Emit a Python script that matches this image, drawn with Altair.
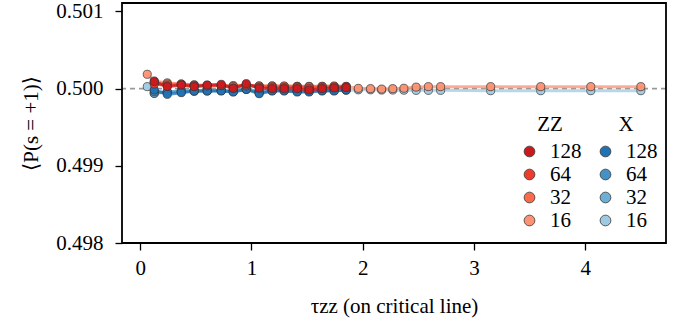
import altair as alt
import pandas as pd

# tau grids
tau_main = [0.126, 0.243, 0.369, 0.485, 0.602, 0.728, 0.836, 0.953, 1.069, 1.186,
            1.294, 1.411, 1.518, 1.635, 1.743, 1.851]
tau_16 = [0.063] + tau_main + [1.96, 2.07, 2.17, 2.27, 2.37, 2.48, 2.59, 2.70,
                               3.15, 3.60, 4.05, 4.50]

# offsets from 0.5, in units of 1e-6
zz_128 = [91, 26, 47, 26, 47, 56, 4, 65, 4, 0, 0, 0, -17, 0, 9, 13]
zz_64 = [60, 40, 50, 35, 35, 40, 10, 50, 20, 20, 15, 20, 5, 15, 20, 20]
zz_32 = [80, 60, 60, 45, 40, 40, 30, 45, 35, 35, 35, 30, 25, 30, 35, 30]
zz_16 = [186, 100, 75, 60, 50, 45, 40, 40, 35, 35, 35, 30, 30, 30, 30, 28, 28,
         4, 0, -5, 0, 5, 20, 26, 26, 26, 26, 26, 26]

x_128 = [-18, -74, -52, -31, -31, -31, -44, -10, -65, -31, -31, -44, -44, -31, -31, -18]
x_64 = [-40, -50, -40, -35, -30, -25, -40, -5, -55, -25, -25, -35, -35, -25, -25, -15]
x_32 = [-60, -40, -30, -25, -20, -25, -30, 0, -45, -20, -20, -30, -25, -20, -20, -10]
x_16 = [26, -60, -45, -30, -25, -25, -20, -30, -10, -35, -25, -20, -25, -25, -20, -20, -20,
        -15, -15, -18, -18, -20, -22, -22, -22, -26, -26, -26, -26]

sizes = ["128", "64", "32", "16"]
reds = ["#cb181d", "#ef3b2c", "#fb6a4a", "#fc9272"]
blues = ["#2171b5", "#4292c6", "#6baed6", "#9ecae1"]

def build(series):
    rows = []
    for n, vals in series:
        taus = tau_16 if n == "16" else tau_main
        rank = {"16": 0, "32": 1, "64": 2, "128": 3}[n]
        for t, v in zip(taus, vals):
            rows.append({"tau": t, "p": 0.5 + v * 1e-6, "N": n, "rank": rank})
    return pd.DataFrame(rows).sort_values(["rank", "tau"])

zz_df = build([("16", zz_16), ("32", zz_32), ("64", zz_64), ("128", zz_128)])
x_df = build([("16", x_16), ("32", x_32), ("64", x_64), ("128", x_128)])

FONT = "'Liberation Serif', 'DejaVu Serif', serif"
FS = 21

xs = alt.Scale(domain=[-0.164, 4.726], nice=False, zero=False)
ys = alt.Scale(domain=[0.498, 0.50111], nice=False, zero=False)

common_axis = dict(grid=False, domain=False,
                   tickColor="black", tickSize=7, tickWidth=1.3,
                   labelFont=FONT, labelFontSize=FS, labelColor="black",
                   titleFont=FONT, titleFontSize=FS, titleFontWeight="normal",
                   titleColor="black")

xax = alt.Axis(values=[0, 1, 2, 3, 4], format="d", title="τzz (on critical line)",
               labelPadding=7, titlePadding=17, **common_axis)
yax = alt.Axis(values=[0.498, 0.499, 0.500, 0.501], format=".3f", title="⟨P(s = +1)⟩",
               labelPadding=12, titlePadding=14, **common_axis)

def legend(title, lx):
    return alt.Legend(title=title, orient="none", legendX=lx, legendY=111,
                      titleAnchor="middle", symbolType="circle")

ref = alt.Chart(pd.DataFrame({"y": [0.5]})).mark_rule(
    color="#999", strokeWidth=1.6, strokeDash=[5, 4]).encode(
    y=alt.Y("y:Q", scale=ys, axis=yax))

def lines(df, colors):
    return alt.Chart(df).mark_line(strokeWidth=3, opacity=0.75).encode(
        x=alt.X("tau:Q", scale=xs, axis=xax),
        y=alt.Y("p:Q", scale=ys, axis=yax),
        stroke=alt.Stroke("N:N", scale=alt.Scale(domain=sizes, range=colors), legend=None),
        detail="N:N",
    )

def points(df, colors, title, lx):
    return alt.Chart(df).mark_point(filled=True, size=66, stroke="#333",
                                    strokeWidth=0.7, fillOpacity=0.95, opacity=1).encode(
        x=alt.X("tau:Q", scale=xs, axis=xax),
        y=alt.Y("p:Q", scale=ys, axis=yax),
        fill=alt.Fill("N:N", scale=alt.Scale(domain=sizes, range=colors),
                      legend=legend(title, lx)),
        order=alt.Order("rank:Q"),
    )

frame = alt.Chart(pd.DataFrame({"k": [0]})).mark_rect(
    fillOpacity=0, stroke="black", strokeWidth=1.8).encode(
    x=alt.value(0), x2=alt.value(544), y=alt.value(0), y2=alt.value(240))

chart = alt.layer(
    ref,
    lines(x_df, blues),
    points(x_df, blues, "X", 473),
    lines(zz_df, reds),
    points(zz_df, reds, "ZZ", 397),
    frame,
).resolve_scale(fill="independent", stroke="independent").properties(
    width=544, height=240,
    autosize=alt.AutoSizeParams(type="none"),
    padding={"left": 122, "top": 3, "right": 30, "bottom": 79},
    background="white",
).configure_view(
    stroke=None
).configure_legend(
    titleFont=FONT, titleFontSize=FS, titleFontWeight="normal", titleColor="black",
    titlePadding=6, labelFont=FONT, labelFontSize=FS, labelColor="black",
    labelOffset=10, symbolSize=115, symbolStrokeColor="#333", symbolStrokeWidth=0.8,
    symbolOpacity=1, rowPadding=1, padding=0,
)

chart.save("out.html", embed_options={"renderer": "svg", "actions": False})
